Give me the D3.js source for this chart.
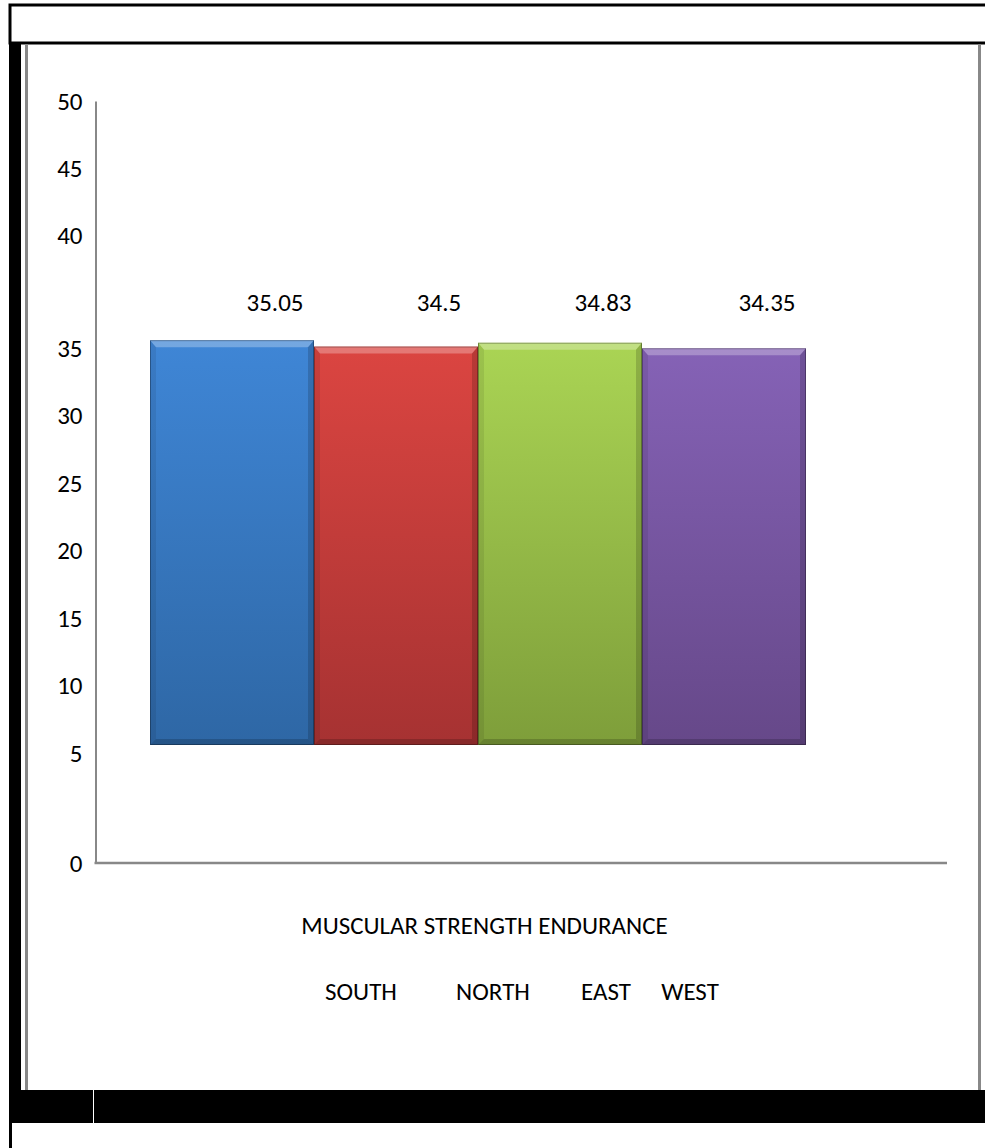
<!DOCTYPE html>
<meta charset="utf-8">
<html>
<head>
<script src="https://cdnjs.cloudflare.com/ajax/libs/d3/7.8.5/d3.min.js"></script>
<style>
  body { margin: 0; background: #fff; }
  text { font-family: Carlito, Calibri, Lato, sans-serif; fill: #000; }
</style>
</head>
<body>
<script>
// chart values
var categories = ["SOUTH", "NORTH", "EAST", "WEST"];
var values = [35.05, 34.5, 34.83, 34.35];
var valueLabels = ["35.05", "34.5", "34.83", "34.35"];
var yTicks = [0, 5, 10, 15, 20, 25, 30, 35, 40, 45, 50];
var axisTitle = "MUSCULAR STRENGTH ENDURANCE";

// office style colours, top -> bottom of each bar
var barTop = ["#3f86d6", "#db4541", "#aad454", "#8562b6"];
var barBottom = ["#2e67a5", "#a63232", "#7e9e3a", "#664889"];

var W = 985, H = 1148;
var fs = 25;
var svg = d3.select("body").append("svg")
    .attr("width", W).attr("height", H);

// page frame (scanned document borders)
var frame = svg.append("g").attr("class", "frame");
frame.append("rect").attr("x", 10).attr("y", 5).attr("width", 990).attr("height", 38)
    .attr("fill", "none").attr("stroke", "#000").attr("stroke-width", 3);
frame.append("rect").attr("x", 9).attr("y", 44).attr("width", 12).attr("height", 1046).attr("fill", "#000");
frame.append("rect").attr("x", 25).attr("y", 44).attr("width", 3).attr("height", 1046).attr("fill", "#888");
frame.append("rect").attr("x", 978).attr("y", 44).attr("width", 3).attr("height", 1046).attr("fill", "#888");
frame.append("rect").attr("x", 9).attr("y", 1090).attr("width", 976).attr("height", 33).attr("fill", "#000");
frame.append("rect").attr("x", 93).attr("y", 1090).attr("width", 1).attr("height", 33).attr("fill", "#fff");
frame.append("rect").attr("x", 9).attr("y", 1123).attr("width", 3).attr("height", 25).attr("fill", "#000");

// axis labels are spaced unevenly in the source, so a piecewise scale
var yAxisScale = d3.scaleLinear()
    .domain([0, 5, 35, 40, 50])
    .range([863, 753, 348, 235, 101]);

// the bars have their own baseline
var yBar = d3.scaleLinear().domain([0, 50]).range([745, 167.5]);

var x = d3.scaleBand().domain(categories).range([150, 806]).padding(0);

var catX = d3.scaleOrdinal().domain(categories).range([361, 493, 606, 690]);

// y axis
var yAxis = svg.append("g")
    .attr("transform", "translate(95.5,0)")
    .call(d3.axisLeft(yAxisScale).tickValues(yTicks).tickSize(0).tickPadding(13).tickSizeOuter(0));
yAxis.select(".domain").attr("stroke", "#888").attr("stroke-width", 2);
yAxis.selectAll(".tick text")
    .attr("font-family", "Carlito, Calibri, Lato, sans-serif")
    .attr("font-size", fs).attr("fill", "#000");

// x axis line
svg.append("line")
    .attr("x1", 94.5).attr("x2", 947)
    .attr("y1", yAxisScale(0)).attr("y2", yAxisScale(0))
    .attr("stroke", "#888").attr("stroke-width", 2.5);

// gradients
var defs = svg.append("defs");
categories.forEach(function(c, i) {
    var g = defs.append("linearGradient").attr("id", "grad" + i)
        .attr("x1", 0).attr("y1", 0).attr("x2", 0).attr("y2", 1);
    g.append("stop").attr("offset", "0%").attr("stop-color", barTop[i]);
    g.append("stop").attr("offset", "100%").attr("stop-color", barBottom[i]);
});

var data = categories.map(function(c, i) { return {cat: c, v: values[i], label: valueLabels[i], i: i}; });

var bars = svg.append("g").selectAll("g.bar").data(data).enter()
    .append("g").attr("class", "bar");

var b = 6; // bevel size
bars.append("rect")
    .attr("x", function(d) { return x(d.cat); })
    .attr("y", function(d) { return yBar(d.v); })
    .attr("width", x.bandwidth())
    .attr("height", function(d) { return yBar(0) - yBar(d.v); })
    .attr("fill", function(d) { return "url(#grad" + d.i + ")"; });

// top bevel
bars.append("polygon")
    .attr("points", function(d) {
        var x0 = x(d.cat), x1 = x0 + x.bandwidth(), y0 = yBar(d.v);
        return [[x0, y0], [x1, y0], [x1 - b, y0 + b + 1], [x0 + b, y0 + b + 1]].join(" ");
    })
    .attr("fill", "#fff").attr("opacity", 0.28);
// left side
bars.append("polygon")
    .attr("points", function(d) {
        var x0 = x(d.cat), y0 = yBar(d.v), y1 = yBar(0);
        return [[x0, y0], [x0 + b, y0 + b + 1], [x0 + b, y1 - b], [x0, y1]].join(" ");
    })
    .attr("fill", "#000").attr("opacity", 0.08);
// right side
bars.append("polygon")
    .attr("points", function(d) {
        var x1 = x(d.cat) + x.bandwidth(), y0 = yBar(d.v), y1 = yBar(0);
        return [[x1, y0], [x1 - b, y0 + b + 1], [x1 - b, y1 - b], [x1, y1]].join(" ");
    })
    .attr("fill", "#000").attr("opacity", 0.16);
// bottom
bars.append("polygon")
    .attr("points", function(d) {
        var x0 = x(d.cat), x1 = x0 + x.bandwidth(), y1 = yBar(0);
        return [[x0, y1], [x1, y1], [x1 - b, y1 - b], [x0 + b, y1 - b]].join(" ");
    })
    .attr("fill", "#000").attr("opacity", 0.18);
// outline
bars.append("rect")
    .attr("x", function(d) { return x(d.cat) + 0.5; })
    .attr("y", function(d) { return yBar(d.v) + 0.5; })
    .attr("width", x.bandwidth() - 1)
    .attr("height", function(d) { return yBar(0) - yBar(d.v) - 1; })
    .attr("fill", "none").attr("stroke", "#000").attr("stroke-opacity", 0.3);

// value labels
svg.append("g").selectAll("text").data(data).enter()
    .append("text")
    .attr("x", function(d) { return x(d.cat) + x.bandwidth() / 2 + 43; })
    .attr("y", 302)
    .attr("dy", "0.35em")
    .attr("text-anchor", "middle")
    .attr("font-size", fs)
    .text(function(d) { return d.label; });

// axis title + category names
svg.append("text")
    .attr("x", 484.5).attr("y", 925).attr("dy", "0.35em")
    .attr("text-anchor", "middle").attr("font-size", fs)
    .text(axisTitle);

svg.append("g").selectAll("text").data(categories).enter()
    .append("text")
    .attr("x", function(d) { return catX(d); })
    .attr("y", 991).attr("dy", "0.35em")
    .attr("text-anchor", "middle").attr("font-size", fs)
    .text(function(d) { return d; });
</script>
</body>
</html>
